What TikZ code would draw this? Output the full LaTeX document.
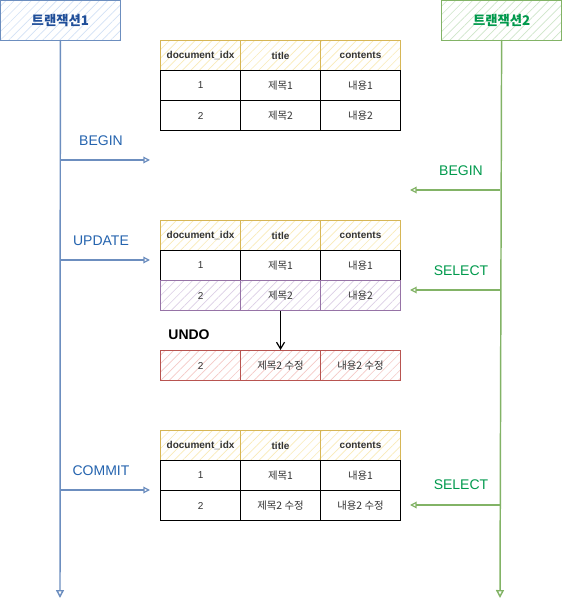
\documentclass[tikz,border=0pt]{standalone}
\usepackage{fontspec}
\setmainfont{Liberation Sans}
\newfontfamily\kr{Noto Sans CJK KR}
\usetikzlibrary{arrows.meta,patterns.meta}
\definecolor{bstroke}{HTML}{6C8EBF}
\definecolor{bhatch}{HTML}{D3E2F6}
\definecolor{btext}{HTML}{1F4E99}
\definecolor{blabel}{HTML}{2463AE}
\definecolor{gstroke}{HTML}{82B366}
\definecolor{ghatch}{HTML}{CFE6CA}
\definecolor{gtext}{HTML}{00994C}
\definecolor{ystroke}{HTML}{D6B656}
\definecolor{yhatch}{HTML}{FAEBB8}
\definecolor{pstroke}{HTML}{9673A6}
\definecolor{phatch}{HTML}{DCCFE6}
\definecolor{rstroke}{HTML}{B85450}
\definecolor{rhatch}{HTML}{F5C9C6}
\definecolor{celltext}{HTML}{333333}
\tikzset{
  hatched/.style={preaction={fill=white},pattern={Lines[angle=45,distance=4.5pt,line width=0.5pt]},pattern color=#1},
  cellbase/.style={minimum width=60pt,minimum height=22.5pt,inner sep=0pt,anchor=north west,line width=0.8pt,font=\fontsize{7.5}{9}\selectfont,text=celltext},
  hdr/.style={cellbase,draw=ystroke,hatched=yhatch,font=\bfseries\fontsize{7.5}{9}\selectfont},
  cell/.style={cellbase,draw=black,fill=white},
  purp/.style={cellbase,draw=pstroke,hatched=phatch},
  redc/.style={cellbase,draw=rstroke,hatched=rhatch},
  tbox/.style={minimum width=90pt,minimum height=30pt,inner sep=0pt,anchor=north west,line width=0.9pt,font=\kr\bfseries\fontsize{10}{12}\selectfont},
  lifeb/.style={draw=bstroke,line width=1.1pt,-{Triangle[open,length=6pt,width=6pt]}},
  lifeg/.style={draw=gstroke,line width=1.1pt,-{Triangle[open,length=6pt,width=6pt]}},
  msgb/.style={draw=bstroke,line width=0.9pt,-{Triangle[open,length=5pt,width=5pt]}},
  msgg/.style={draw=gstroke,line width=0.9pt,-{Triangle[open,length=5pt,width=5pt]}},
  lblb/.style={text=blabel,font=\fontsize{10.5}{12}\selectfont},
  lblg/.style={text=gtext,font=\fontsize{10.5}{12}\selectfont},
  krt/.style={font=\kr\fontsize{7.8}{9}\selectfont},
}
\begin{document}
\begin{tikzpicture}[x=0.75pt,y=-0.75pt]
\useasboundingbox (0,0) rectangle (561,609);
% header boxes
\node[tbox,draw=bstroke,hatched=bhatch,text=btext] (tx1) at (0,0) {트랜잭션1};
\node[tbox,draw=gstroke,hatched=ghatch,text=gtext] (tx2) at (441,0) {트랜잭션2};
\coordinate (l1end) at (60,598);
\coordinate (l2end) at (500,598);
\draw[lifeb] (tx1.south) -- (l1end);
\draw[lifeg] (tx2.south) -- (l2end);

% table 1
\node[hdr] (a11) at (160,40) {document\_idx};
\node[hdr] (a12) at (240,40) {title};
\node[hdr] (a13) at (320,40) {contents};
\node[cell] (a21) at (160,70) {1};
\node[cell,krt] (a22) at (240,70) {제목1};
\node[cell,krt] (a23) at (320,70) {내용1};
\node[cell] (a31) at (160,100) {2};
\node[cell,krt] (a32) at (240,100) {제목2};
\node[cell,krt] (a33) at (320,100) {내용2};

% table 2
\node[hdr] (b11) at (160,220) {document\_idx};
\node[hdr] (b12) at (240,220) {title};
\node[hdr] (b13) at (320,220) {contents};
\node[cell] (b21) at (160,250) {1};
\node[cell,krt] (b22) at (240,250) {제목1};
\node[cell,krt] (b23) at (320,250) {내용1};
\node[purp] (b31) at (160,280) {2};
\node[purp,krt] (b32) at (240,280) {제목2};
\node[purp,krt] (b33) at (320,280) {내용2};

% undo row
\node[redc] (u1) at (160,350) {2};
\node[redc,krt] (u2) at (240,350) {제목2 수정};
\node[redc,krt] (u3) at (320,350) {내용2 수정};
\node[font=\bfseries\fontsize{10.5}{12}\selectfont] (undo) at (189,335) {UNDO};
\draw[line width=0.9pt,-{Straight Barb[length=5pt,width=6pt]}] (b32.south) -- (u2.north);

% table 3
\node[hdr] (c11) at (160,430) {document\_idx};
\node[hdr] (c12) at (240,430) {title};
\node[hdr] (c13) at (320,430) {contents};
\node[cell] (c21) at (160,460) {1};
\node[cell,krt] (c22) at (240,460) {제목1};
\node[cell,krt] (c23) at (320,460) {내용1};
\node[cell] (c31) at (160,490) {2};
\node[cell,krt] (c32) at (240,490) {제목2 수정};
\node[cell,krt] (c33) at (320,490) {내용2 수정};

% messages transaction 1
\coordinate (s1) at (60,160); \coordinate (e1) at (150,160);
\coordinate (s2) at (60,260); \coordinate (e2) at (150,260);
\coordinate (s3) at (60,490); \coordinate (e3) at (150,490);
\draw[msgb] (s1) -- (e1);
\draw[msgb] (s2) -- (e2);
\draw[msgb] (s3) -- (e3);
\node[lblb] (begin1) at (101,141) {BEGIN};
\node[lblb] (upd) at (101,241) {UPDATE};
\node[lblb] (com) at (101,471) {COMMIT};

% messages transaction 2
\coordinate (s4) at (500,190); \coordinate (e4) at (410,190);
\coordinate (s5) at (500,290); \coordinate (e5) at (410,290);
\coordinate (s6) at (500,505); \coordinate (e6) at (410,505);
\draw[msgg] (s4) -- (e4);
\draw[msgg] (s5) -- (e5);
\draw[msgg] (s6) -- (e6);
\node[lblg] (begin2) at (461,171) {BEGIN};
\node[lblg] (sel1) at (461,271) {SELECT};
\node[lblg] (sel2) at (461,485) {SELECT};
\end{tikzpicture}
\end{document}
